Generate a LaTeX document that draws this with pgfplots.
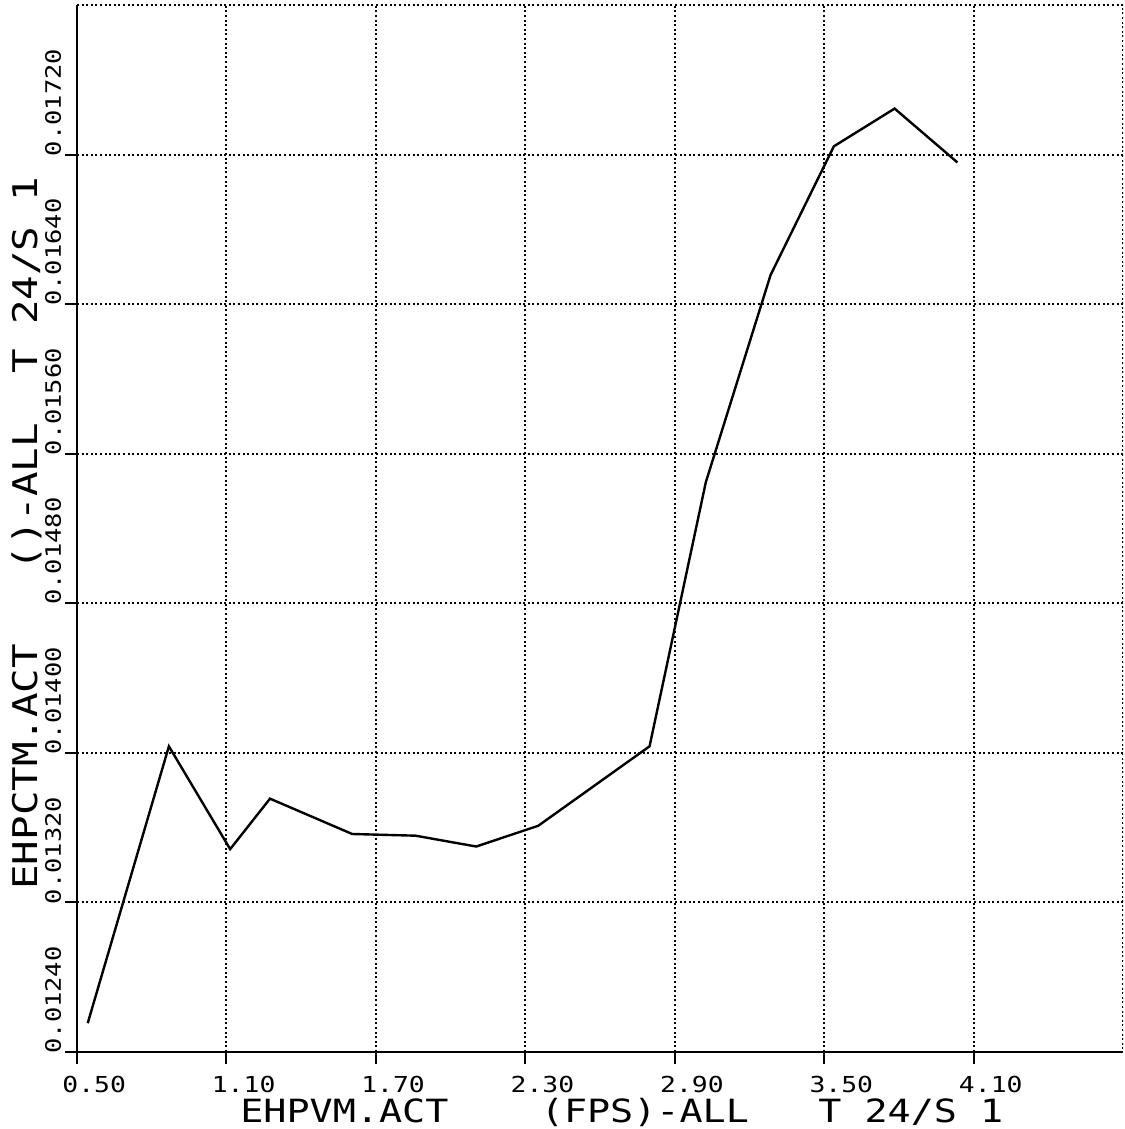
\documentclass[border=0pt]{standalone}
\usepackage{fontspec}
\newfontfamily\plotfont{DejaVu Sans Mono}[FakeStretch=1.2]
\usepackage{pgfplots}
\pgfplotsset{compat=1.18}
\pgfplotstableread{
x y
0.543 0.012554
0.869 0.014035
1.115 0.013485
1.275 0.013755
1.605 0.013566
1.859 0.013557
2.103 0.013499
2.352 0.013610
2.799 0.014035
3.025 0.015448
3.285 0.016556
3.539 0.017244
3.783 0.017446
4.035 0.017158
}\datatable
\begin{document}
\begin{tikzpicture}
\begin{axis}[
  name=ax,
  width=523pt, height=523.5pt, scale only axis,
  xmin=0.5, xmax=4.7, ymin=0.0124, ymax=0.018,
  axis x line*=bottom, axis y line*=left,
  axis line style={line width=1.1pt, -},
  xtick={0.5,1.1,1.7,2.3,2.9,3.5,4.1},
  xticklabels={0.50,1.10,1.70,2.30,2.90,3.50,4.10},
  ytick={0.0124,0.0132,0.0140,0.0148,0.0156,0.0164,0.0172},
  yticklabels={0.01240,0.01320,0.01400,0.01480,0.01560,0.01640,0.01720},
  scaled y ticks=false, scaled x ticks=false,
  tick align=outside, major tick length=6pt,
  tick style={line width=1pt, black},
  grid=major,
  major grid style={line width=1pt, black, dash pattern=on 1pt off 1.3pt},
  xticklabel style={font=\plotfont\fontsize{11}{12}\selectfont, anchor=north west, inner sep=0pt, xshift=-7.5pt, yshift=-6pt},
  yticklabel style={font=\plotfont\fontsize{10.6}{12}\selectfont, xshift=-2pt, yshift=-1pt, rotate=90, anchor=base west, inner sep=0pt},
  xlabel={EHPVM.ACT~~~~(FPS)-ALL~~~T~24/S~1},
  ylabel={EHPCTM.ACT~~~()-ALL~~T~24/S~1},
  xlabel style={at={(axis description cs:0.1558,-0.0669)}, anchor=base west, inner sep=0pt, font=\plotfont\fontsize{16}{16}\selectfont},
  ylabel style={at={(axis description cs:-0.0382,0.1547)}, anchor=base west, inner sep=0pt, font=\plotfont\fontsize{17}{17}\selectfont},
]
\addplot[black, line width=1.2pt, mark=none] table[x=x, y=y] {\datatable};
\draw[line width=1pt, black, dash pattern=on 1pt off 1.3pt] (rel axis cs:0,1) -- (rel axis cs:1,1) -- (rel axis cs:1,0);
\end{axis}
\pgfresetboundingbox
\path (ax.south west) +(-38.5pt,-38.5pt) (ax.north east) +(1pt,2.5pt);
\end{tikzpicture}
\end{document}
